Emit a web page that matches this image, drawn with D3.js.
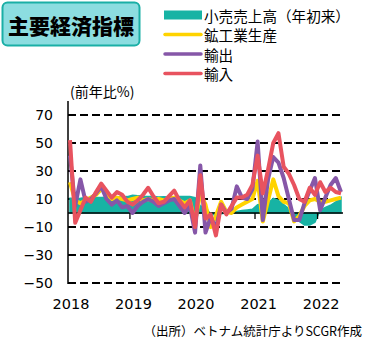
<!DOCTYPE html>
<html>
<head>
<meta charset="utf-8">
<script src="https://cdn.jsdelivr.net/npm/d3@7"></script>
<style>
  body { margin: 0; background: #fff; }
  text { font-family: "Noto Sans CJK JP", sans-serif; }
  .num { font-family: "DejaVu Sans", sans-serif; }
</style>
</head>
<body>
<div id="chart"></div>
<script>
// monthly categories Jan 2018 - May 2022
const years = [2018, 2019, 2020, 2021, 2022];
const months = [];
years.forEach(y => {
    for (let m = 1; m <= 12; m++) {
        if (y === 2022 && m > 5) break;
        months.push(y + "-" + (m < 10 ? "0" + m : m));
    }
});

// 小売売上高（年初来）
const retail = [
    10.5, 10.4, 10.6, 10.9, 11.0, 11.0, 11.1, 11.2, 11.3, 11.4, 11.5, 11.7,
    12.6, 12.3, 12.0, 11.8, 11.7, 11.5, 11.6, 11.5, 11.6, 11.8, 11.8, 11.8,
    11.0, 5.0, 4.5, -1.0, -1.5, -0.5, 0.0, 0.5, 1.0, 1.8, 2.2, 2.6,
    6.0, 6.5, 7.0, 10.5, 9.0, 6.0, 3.0, -2.0, -6.0, -8.5, -8.5, -6.5,
    2.0, 4.0, 5.5, 8.0, 11.0
];
// 鉱工業生産
const iip = [
    22, 9, 7, 9, 11, 13, 17, 14, 10, 11, 10, 9,
    10, 11, 9, 10, 9, 10, 9, 10, 11, 9, 7, 9,
    -6, 14, 6, -10, -2, 8, 1, 0, 4, 6, 8, 10,
    23, -6, 9, 24, 12, 8, 7, -6, -2, 5, 9, 10,
    8, 8, 9, 10, 11
];
// 輸出
const exportsYoY = [
    41, 5, 24, 8, 10, 14, 19, 10, 6, 9, 4, 5,
    0, 5, 8, 10, 8, 5, 7, 9, 10, 5, 0, 5,
    -14, 34, -14, -3, -11, 6, 0, 3, 19, 11, 10, 17,
    51, -5, 24, 40, 36, 25, 10, -5, -5, 7, 16, 25,
    2, 11, 20, 25, 15
];
// 輸入
const importsYoY = [
    52, -7, 2, 11, 8, 15, 21, 16, 11, 15, 13, 8,
    6, 9, 13, 18, 12, 7, 8, 12, 16, 9, 4, 9,
    -10, 27, -4, -1, -16, 6, -1, 5, 11, 11, 13, 20,
    41, 14, 31, 50, 57, 33, 28, 20, 10, 8, 18, 13,
    22, 15, 18, 15, 14
];

const yTicks = [70, 50, 30, 10, -10, -30, -50];
const legendItems = [
    { name: "小売売上高（年初来）", color: "#17b3a4", type: "area" },
    { name: "鉱工業生産", color: "#ffd300", type: "line" },
    { name: "輸出", color: "#8657a8", type: "line" },
    { name: "輸入", color: "#e8535f", type: "line" }
];

const W = 385, H = 344;
const svg = d3.select("#chart").append("svg")
    .attr("width", W)
    .attr("height", H);

const x = d3.scalePoint().domain(months).range([70, 341]);
const y = d3.scaleLinear().domain([-50, 70]).range([283, 115]);

// title box
svg.append("rect")
    .attr("x", 2.5).attr("y", 2.5)
    .attr("width", 137).attr("height", 43)
    .attr("rx", 5)
    .attr("fill", "#8cdde0")
    .attr("stroke", "#1aafa6")
    .attr("stroke-width", 2);
svg.append("text")
    .attr("x", 71).attr("y", 25)
    .attr("text-anchor", "middle")
    .attr("dominant-baseline", "central")
    .attr("font-size", 21)
    .attr("font-weight", 900)
    .text("主要経済指標");

// legend
const lg = svg.append("g");
legendItems.forEach((d, i) => {
    const cy = 15 + i * 19.5;
    if (d.type === "area") {
        lg.append("rect")
            .attr("x", 164).attr("y", cy - 4.5)
            .attr("width", 38).attr("height", 9)
            .attr("fill", d.color);
    } else {
        lg.append("line")
            .attr("x1", 165).attr("x2", 201)
            .attr("y1", cy).attr("y2", cy)
            .attr("stroke", d.color)
            .attr("stroke-width", 3.5)
            .attr("stroke-linecap", "round");
    }
    lg.append("text")
        .attr("x", 204).attr("y", cy)
        .attr("dominant-baseline", "central")
        .attr("font-size", 14.6)
        .text(d.name);
});

svg.append("text")
    .attr("x", 70).attr("y", 91)
    .attr("dominant-baseline", "central")
    .attr("font-size", 14)
    .text("(前年比%)");

// gridlines
svg.append("g")
    .selectAll("line")
    .data(yTicks)
    .join("line")
    .attr("x1", 68).attr("x2", 344)
    .attr("y1", d => y(d)).attr("y2", d => y(d))
    .attr("stroke", "#000")
    .attr("stroke-width", 2)
    .attr("stroke-dasharray", "8,4");

// y axis
const yAxis = svg.append("g")
    .attr("transform", "translate(68,0)")
    .call(d3.axisLeft(y).tickValues(yTicks).tickSize(0).tickPadding(15));
yAxis.select(".domain").remove();
yAxis.selectAll("text")
    .attr("class", "num")
    .attr("font-size", 14)
    .attr("fill", "#000");
svg.append("line")
    .attr("x1", 68).attr("x2", 68)
    .attr("y1", 101).attr("y2", 284)
    .attr("stroke", "#000")
    .attr("stroke-width", 1.5);

// retail area
const area = d3.area()
    .x((d, i) => x(months[i]))
    .y0(y(0))
    .y1(d => y(d));
svg.append("path")
    .datum(retail)
    .attr("fill", legendItems[0].color)
    .attr("stroke", legendItems[0].color)
    .attr("stroke-width", 1.5)
    .attr("d", area);

// zero axis with year ticks
const step = x.step();
const jan = months.filter(m => m.endsWith("-01"));
svg.append("line")
    .attr("x1", 68).attr("x2", 343)
    .attr("y1", y(0)).attr("y2", y(0))
    .attr("stroke", "#000")
    .attr("stroke-width", 1.3);
svg.append("g")
    .selectAll("line")
    .data(jan.slice(1))
    .join("line")
    .attr("x1", d => x(d) - step / 2).attr("x2", d => x(d) - step / 2)
    .attr("y1", y(0)).attr("y2", y(0) + 6)
    .attr("stroke", "#000")
    .attr("stroke-width", 1.3);

// lines
const line = d3.line()
    .x((d, i) => x(months[i]))
    .y(d => y(d));
[iip, exportsYoY, importsYoY].forEach((s, k) => {
    svg.append("path")
        .datum(s)
        .attr("fill", "none")
        .attr("stroke", legendItems[k + 1].color)
        .attr("stroke-width", 4)
        .attr("stroke-linejoin", "round")
        .attr("d", line);
});

// x labels
svg.append("g")
    .selectAll("text")
    .data(jan)
    .join("text")
    .attr("class", "num")
    .attr("x", d => x(d) + 1)
    .attr("y", 304)
    .attr("text-anchor", "middle")
    .attr("dominant-baseline", "central")
    .attr("font-size", 14.5)
    .text(d => d.slice(0, 4));

svg.append("text")
    .attr("x", 362).attr("y", 330)
    .attr("text-anchor", "end")
    .attr("dominant-baseline", "central")
    .attr("font-size", 12.5)
    .text("（出所）ベトナム統計庁よりSCGR作成");
</script>
</body>
</html>
